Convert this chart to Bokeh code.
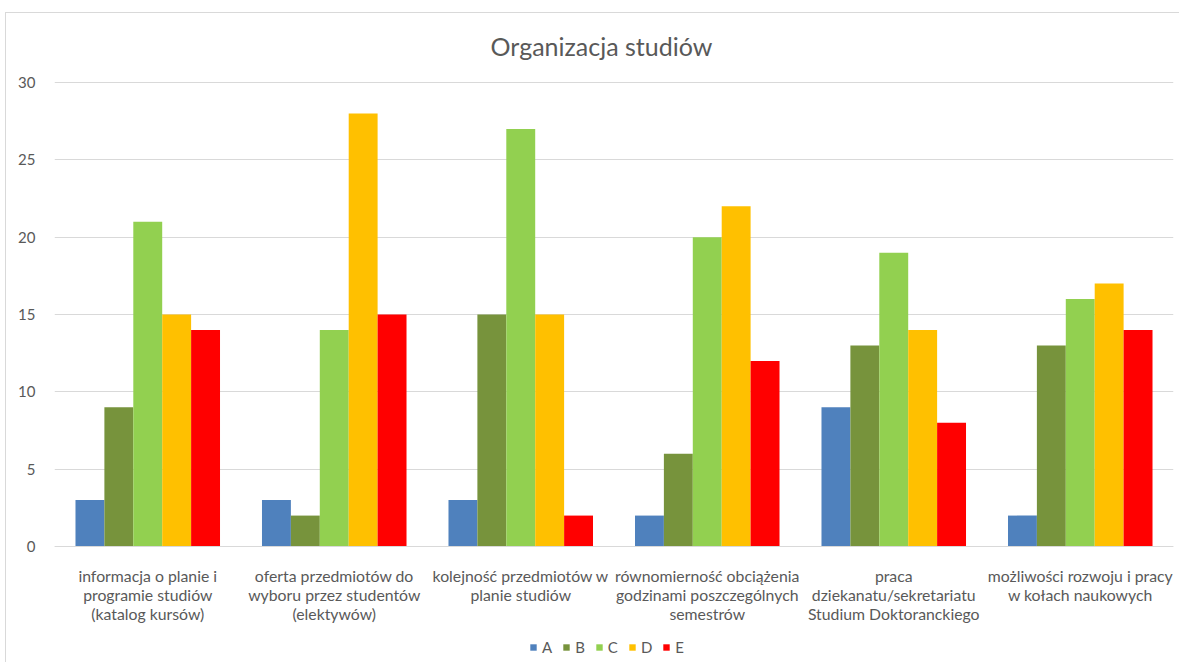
from bokeh.plotting import figure
from bokeh.models import (ColumnDataSource, FactorRange, Legend, LegendItem,
                          Range1d, FixedTicker, Label)
from bokeh.transform import dodge
from bokeh.embed import file_html
from bokeh.resources import INLINE

title_text = "Organizacja studiów"
categories = [
    "informacja o planie i\nprogramie studiów\n(katalog kursów)",
    "oferta przedmiotów do\nwyboru przez studentów\n(elektywów)",
    "kolejność przedmiotów w\nplanie studiów",
    "równomierność obciążenia\ngodzinami poszczególnych\nsemestrów",
    "praca\ndziekanatu/sekretariatu\nStudium Doktoranckiego",
    "możliwości rozwoju i pracy\nw kołach naukowych",
]
series = ["A", "B", "C", "D", "E"]
A = [3, 3, 3, 2, 9, 2]
B = [9, 2, 15, 6, 13, 13]
C = [21, 14, 27, 20, 19, 16]
D = [15, 28, 15, 22, 14, 17]
E = [14, 15, 2, 12, 8, 14]
y_ticks = [0, 5, 10, 15, 20, 25, 30]
colors = ["#4F81BD", "#77933C", "#92D050", "#FFC000", "#FF0000"]

FONT = "Lato"
TXT = "#595959"
GRID = "#d9d9d9"

src = ColumnDataSource(dict(cat=categories, A=A, B=B, C=C, D=D, E=E))

p = figure(x_range=FactorRange(*categories), y_range=Range1d(-7.5, 34.4),
           width=1174, height=650, output_backend="svg", toolbar_location=None,
           min_border_left=48, min_border_right=7, min_border_top=1,
           min_border_bottom=1)
p.margin = (12, 0, 0, 5)
p.styles = {"border-top": "1px solid #d9d9d9", "border-left": "1px solid #d9d9d9"}

w = 0.155
renderers = []
for i, s in enumerate(series):
    r = p.vbar(x=dodge("cat", (i - 2) * w, range=p.x_range), top=s, width=w,
               source=src, fill_color=colors[i], line_color=None)
    renderers.append(r)

title = Label(x=2.933, y=32.39, text=title_text, text_align="center",
              text_baseline="middle", text_font=FONT, text_font_size="25px",
              text_color=TXT)
p.add_layout(title)

p.outline_line_color = None
p.xgrid.grid_line_color = None
p.ygrid.grid_line_color = GRID
p.ygrid.grid_line_width = 1

p.yaxis.ticker = FixedTicker(ticks=y_ticks)
p.yaxis.axis_line_color = None
p.yaxis.major_tick_line_color = None
p.yaxis.minor_tick_line_color = None
p.yaxis.major_label_text_font = FONT
p.yaxis.major_label_text_font_size = "15px"
p.yaxis.major_label_text_color = TXT
p.yaxis.major_label_standoff = 13

p.xaxis.fixed_location = 0
p.xaxis.axis_line_color = GRID
p.xaxis.axis_line_width = 1
p.xaxis.major_tick_line_color = None
p.xaxis.minor_tick_line_color = None
p.xaxis.major_label_text_font = FONT
p.xaxis.major_label_text_font_size = "15.8px"
p.xaxis.major_label_text_line_height = 1.0
p.xaxis.major_label_text_color = TXT
p.xaxis.major_label_standoff = 13

legend = Legend(items=[LegendItem(label=s, renderers=[r]) for s, r in zip(series, renderers)],
                orientation="horizontal", location=(475, 6))
legend.border_line_color = None
legend.background_fill_alpha = 0
legend.glyph_width = 8
legend.glyph_height = 8
legend.label_width = 0
legend.label_text_font = FONT
legend.label_text_font_size = "15px"
legend.label_text_color = TXT
legend.spacing = 10
legend.label_standoff = 5
legend.padding = 0
legend.margin = 0
p.add_layout(legend)

open("out.html", "w").write(file_html(p, INLINE))
